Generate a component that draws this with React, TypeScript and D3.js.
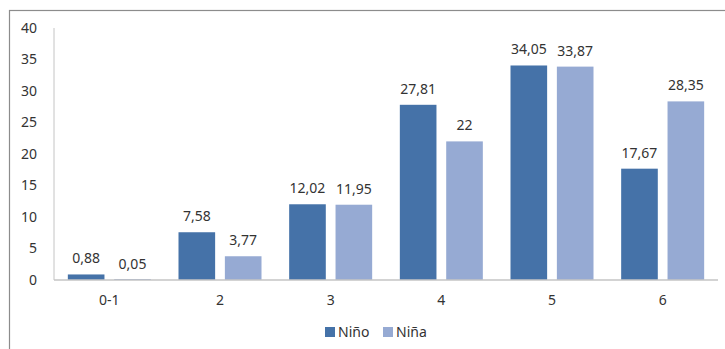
import React from "react";
import * as d3 from "d3";

// edades y porcentajes por sexo
const categories = ["0-1", "2", "3", "4", "5", "6"];
const series = ["Niño", "Niña"];
const ninoValues = [0.88, 7.58, 12.02, 27.81, 34.05, 17.67];
const ninaValues = [0.05, 3.77, 11.95, 22, 33.87, 28.35];
const yTicks = [0, 5, 10, 15, 20, 25, 30, 35, 40];
const colors = ["#4572A8", "#96AAD3"];

const width = 725;
const height = 349;
const margin = { left: 54, right: 7, top: 28, bottom: 69 };
const font = "'Noto Sans', sans-serif";

const fmt = (v: number) => String(v).replace(".", ",");

const App = () => {
    const x = d3
        .scaleBand()
        .domain(categories)
        .range([margin.left, width - margin.right])
        .paddingInner(0.25)
        .paddingOuter(0.125);
    const xs = d3.scaleBand().domain(series).range([0, x.bandwidth()]).paddingInner(0.21);
    const y = d3.scaleLinear().domain([0, 40]).range([height - margin.bottom, margin.top]);

    const rows = categories.map((c, i) => ({ c, vals: [ninoValues[i], ninaValues[i]] }));

    return (
        <svg width={width} height={height} style={{ position: "absolute", left: 0, top: 0, background: "#fff" }}>
            {/* frame */}
            <rect x={9.5} y={10.5} width={width + 20} height={height + 20} fill="none" stroke="#8c8c8c" strokeWidth={1.2} />

            {/* y axis */}
            <line x1={margin.left} x2={margin.left} y1={y(40)} y2={y(0)} stroke="#c4c4c4" />
            {yTicks.map((t) => (
                <text key={t} x={37} y={y(t)} dy="0.35em" textAnchor="end" fontFamily={font} fontSize={14} fill="#333">
                    {t}
                </text>
            ))}

            {/* bars */}
            {rows.map((r) => (
                <g key={r.c} transform={`translate(${x(r.c)},0)`}>
                    {r.vals.map((v, j) => (
                        <g key={j}>
                            <rect
                                x={xs(series[j])}
                                y={Math.min(y(v), y(0) - 1)}
                                width={xs.bandwidth()}
                                height={Math.max(y(0) - y(v), 1)}
                                fill={colors[j]}
                            />
                            <text
                                x={(xs(series[j]) as number) + xs.bandwidth() / 2}
                                y={y(v) - 11}
                                textAnchor="middle"
                                fontFamily={font}
                                fontSize={14}
                                fill="#333"
                            >
                                {fmt(v)}
                            </text>
                        </g>
                    ))}
                    <text
                        x={x.bandwidth() / 2}
                        y={y(0) + 20}
                        dy="0.35em"
                        textAnchor="middle"
                        fontFamily={font}
                        fontSize={14}
                        fill="#333"
                    >
                        {r.c}
                    </text>
                </g>
            ))}

            {/* x axis */}
            <line x1={margin.left} x2={width - margin.right} y1={y(0)} y2={y(0)} stroke="#c4c4c4" strokeWidth={1.5} />

            {/* legend */}
            {series.map((s, i) => (
                <g key={s} transform={`translate(${325 + i * 58},${327})`}>
                    <rect x={0} y={0} width={10} height={10} fill={colors[i]} />
                    <text x={13} y={5} dy="0.35em" fontFamily={font} fontSize={14} fill="#333">
                        {s}
                    </text>
                </g>
            ))}
        </svg>
    );
};

export default App;
